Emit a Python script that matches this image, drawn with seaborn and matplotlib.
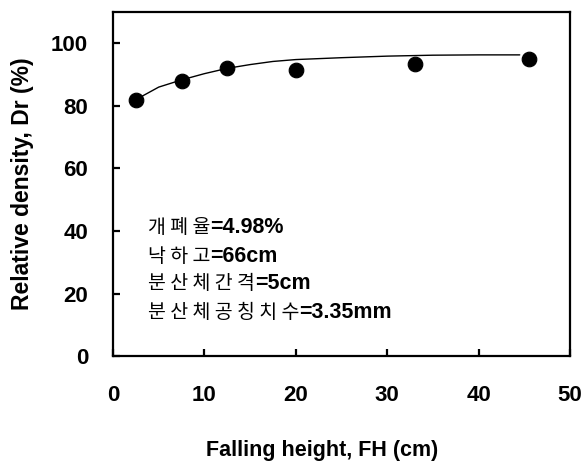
import matplotlib
matplotlib.use('Agg')
import matplotlib.pyplot as plt
import seaborn as sns
import pandas as pd

# measured points
falling_height = [2.5, 7.5, 12.5, 20, 33, 45.5]
rel_density = [82, 88, 92, 91.5, 93.5, 95]

# fitted trend line
fit_height = [2.5, 5, 7.5, 10, 12.5, 15, 17.5, 20, 25, 30, 35, 40, 44.5]
fit_density = [82, 86, 88.3, 90.3, 92, 93.2, 94.2, 94.8, 95.4, 95.9, 96.2, 96.3, 96.3]

info_keys = ['개 폐 율', '낙 하 고', '분 산 체 간 격', '분 산 체 공 칭 치 수']
info_vals = ['=4.98%', '=66cm', '=5cm', '=3.35mm']

sns.set_theme(style='ticks')
plt.rcParams['font.family'] = ['Liberation Sans', 'Noto Sans CJK KR', 'DejaVu Sans']
plt.rcParams['text.color'] = 'black'
plt.rcParams['axes.labelcolor'] = 'black'

pts = pd.DataFrame({'FH': falling_height, 'Dr': rel_density})
fit = pd.DataFrame({'FH': fit_height, 'Dr': fit_density})

fig = plt.figure(figsize=(5.84, 4.62), dpi=100)
ax = fig.add_axes([0.1935, 0.229, 0.7825, 0.745])

sns.lineplot(data=fit, x='FH', y='Dr', color='black', linewidth=1.0, ax=ax)
sns.scatterplot(data=pts, x='FH', y='Dr', color='black', s=110, edgecolor='black', ax=ax, zorder=3)

ax.set_xlim(0, 50)
ax.set_ylim(0, 110)
ax.set_xticks([0, 10, 20, 30, 40, 50])
ax.set_yticks([0, 20, 40, 60, 80, 100])
for s in ax.spines.values():
    s.set_linewidth(1.6)
    s.set_color('black')
ax.tick_params(direction='in', length=5, width=1.6, labelsize=16,
               top=False, right=False, colors='black')
ax.tick_params(axis='x', pad=21)
ax.tick_params(axis='y', pad=18)
for lab in ax.get_xticklabels() + ax.get_yticklabels():
    lab.set_fontweight('bold')

ax.set_xlabel('Falling height, FH (cm)', fontsize=15.5, fontweight='bold', labelpad=24)
ax.xaxis.label.set_x(0.457)
ax.set_ylabel('Relative density, Dr (%)', fontsize=16.5, fontweight='bold', labelpad=12)

ys = [0.358, 0.273, 0.195, 0.11]
for k, v, yy in zip(info_keys, info_vals, ys):
    t = ax.text(0.077, yy, k, transform=ax.transAxes, fontsize=14,
                family=['Noto Sans CJK KR'], va='baseline')
    ax.annotate(v, xy=(1, 0), xycoords=t, fontsize=15.5, fontweight='bold',
                va='bottom', ha='left')

fig.savefig('out.png', dpi=100)
